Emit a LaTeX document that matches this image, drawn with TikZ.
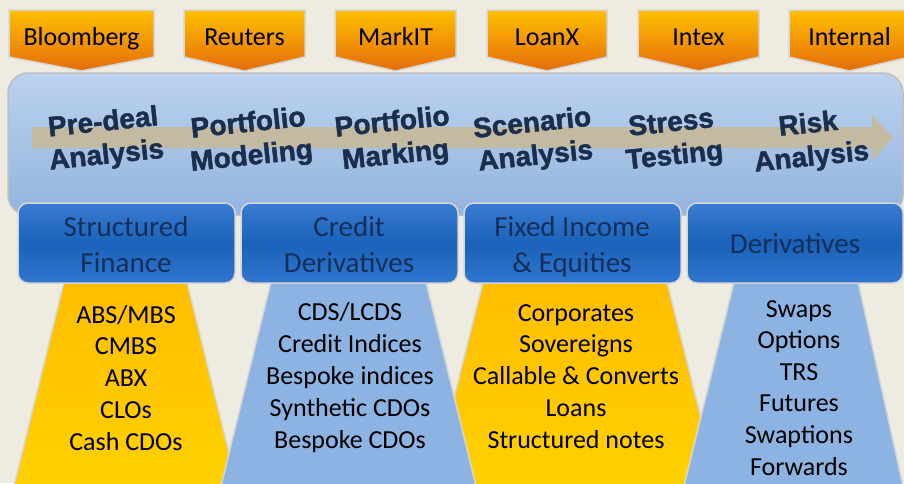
\documentclass[tikz,border=0pt]{standalone}
\usepackage{fontspec}
\setmainfont{Carlito}
\newfontfamily\arrowfont{Liberation Sans}[BoldFeatures={FakeBold=1.6}]
\definecolor{bg}{HTML}{EEECE1}
\definecolor{orgtop}{HTML}{FFC000}
\definecolor{orgbot}{HTML}{E46C0A}
\definecolor{lightedge}{HTML}{D6D6D6}
\definecolor{boxtop}{HTML}{BAD2EE}
\definecolor{boxbot}{HTML}{94B4DE}
\definecolor{boxedge}{HTML}{BFBFBF}
\definecolor{tan}{HTML}{C4BAA2}
\definecolor{stagenavy}{HTML}{1B2E4C}
\definecolor{cattop}{HTML}{3A7CD2}
\definecolor{catmid}{HTML}{1A62B9}
\definecolor{catbot}{HTML}{3175CE}
\definecolor{catnavy}{HTML}{14305A}
\definecolor{yeltop}{HTML}{FFBE00}
\definecolor{yelbot}{HTML}{FFD200}
\definecolor{trapblue}{HTML}{8DB3E2}
\begin{document}
\begin{tikzpicture}[x=1pt,y=-1pt,
  src/.style={font=\fontsize{26}{30}\selectfont, text=black, anchor=base, inner sep=0pt},
  stagelbl/.style={font=\arrowfont\bfseries\fontsize{28}{33}\selectfont, text=stagenavy, align=center, rotate=6, inner sep=0pt},
  catbox/.style={rounded corners=10pt, top color=cattop, bottom color=catbot, middle color=catmid, draw=lightedge, line width=1.5pt, minimum height=80pt, inner sep=0pt},
  cat/.style={font=\fontsize{29}{35}\selectfont, text=catnavy, anchor=base, inner sep=0pt},
  item/.style={font=\fontsize{26}{31}\selectfont, text=black, anchor=base, inner sep=0pt},
  yeltrap/.style={top color=yeltop, bottom color=yelbot, draw=lightedge, line width=1.5pt},
  bluetrap/.style={fill=trapblue, draw=lightedge, line width=1.5pt}
]
\useasboundingbox (0,0) rectangle (904,483);
\fill[bg] (0,0) rectangle (904,483);
\clip (0,0) rectangle (904,483);

% source pentagons
\foreach \xa/\xb/\nm/\lbl in {9/154/bb/Bloomberg, 184/305/rt/Reuters, 335/456/mk/MarkIT, 487/607/lx/LoanX, 638/759/ix/Intex, 789/910/inl/Internal}{
  \shade[top color=orgtop, bottom color=orgbot, draw=lightedge, line width=1.5pt]
    (\xa,10) -- (\xb,10) -- (\xb,57) -- ({(\xa+\xb)/2},71) -- (\xa,57) -- cycle;
  \node[src] (\nm) at ({(\xa+\xb)/2},45.5) {\lbl};
}

% process band
\shade[rounded corners=20pt, top color=boxtop, bottom color=boxbot, draw=boxedge, line width=1.5pt]
  (8,73) rectangle (903,215);
\fill[tan] (32,127) -- (872,127) -- (872,115) -- (893,137.5) -- (872,160) -- (872,148) -- (32,148) -- cycle;

\node[stagelbl] (s1) at (105,140) {Pre-deal\\Analysis};
\node[stagelbl] (s2) at (250,141) {Portfolio\\Modeling};
\node[stagelbl] (s3) at (394,140) {Portfolio\\Marking};
\node[stagelbl] (s4) at (534,141) {Scenario\\Analysis};
\node[stagelbl] (s5) at (673,141) {Stress\\Testing};
\node[stagelbl] (s6) at (810,142) {Risk\\Analysis};

% trapezoids (yellow first, blue on top)
\shade[yeltrap] ({63+0.245*6},280) -- ({188-0.245*6},280) -- ({188+0.245*214},500) -- ({63-0.245*214},500) -- cycle;
\shade[yeltrap] ({482+0.25*6},280) -- ({668-0.25*6},280) -- ({668+0.25*214},500) -- ({482-0.25*214},500) -- cycle;
\filldraw[bluetrap] ({270+0.245*6},280) -- ({427-0.245*6},280) -- ({427+0.245*214},500) -- ({270-0.245*214},500) -- cycle;
\filldraw[bluetrap] ({733+0.245*6},280) -- ({859-0.22*6},280) -- ({859+0.22*214},500) -- ({733-0.245*214},500) -- cycle;

% category boxes
\node[catbox, minimum width=217pt] (sfbox) at (126.5,243) {};
\node[catbox, minimum width=217pt] (cdbox) at (349.5,243) {};
\node[catbox, minimum width=217pt] (fibox) at (572.5,243) {};
\node[catbox, minimum width=216pt] (dbox) at (795,243) {};

\node[cat] (sf1) at (126,236) {Structured};
\node[cat] (sf2) at (126,272) {Finance};
\node[cat] (cd1) at (349,236) {Credit};
\node[cat] (cd2) at (349,272) {Derivatives};
\node[cat] (fi1) at (572,236) {Fixed Income};
\node[cat] (fi2) at (572,272) {\& Equities};
\node[cat] (d1) at (795,253) {Derivatives};

% item lists
\foreach \t [count=\i] in {ABS/MBS, CMBS, ABX, CLOs, Cash CDOs}
  \node[item] (sfi\i) at (126,{323+(\i-1)*31.8}) {\t};
\foreach \t [count=\i] in {CDS/LCDS, Credit Indices, Bespoke indices, Synthetic CDOs, Bespoke CDOs}
  \node[item] (cdi\i) at (350,{320+(\i-1)*32}) {\t};
\foreach \t [count=\i] in {Corporates, Sovereigns, Callable \& Converts, Loans, Structured notes}
  \node[item] (fii\i) at (576,{321+(\i-1)*31.8}) {\t};
\foreach \t [count=\i] in {Swaps, Options, TRS, Futures, Swaptions, Forwards}
  \node[item] (di\i) at (799,{317+(\i-1)*31.6}) {\t};
\end{tikzpicture}
\end{document}
